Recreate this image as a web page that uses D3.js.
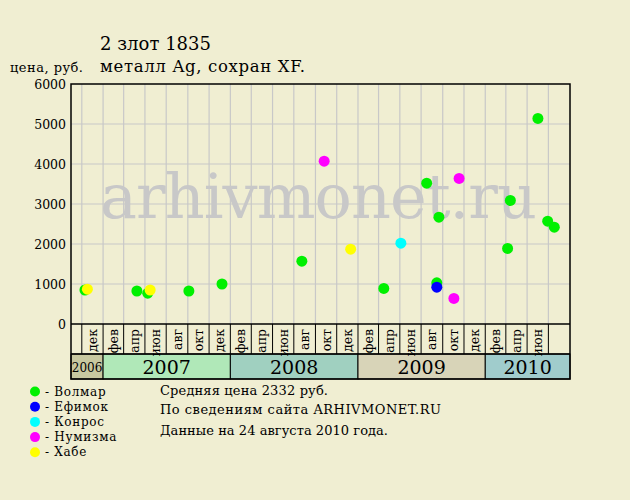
<!DOCTYPE html>
<html><head><meta charset="utf-8">
<script src="https://cdn.jsdelivr.net/npm/d3@7"></script>
<style>
html,body{margin:0;padding:0;background:#F0EED2;}
svg{display:block;font-family:"DejaVu Serif",serif;}
</style></head>
<body>
<svg id="c" width="630" height="500"></svg>
<script>
// ---- data ----
const volmarDates  = ["2006-11-10","2007-04-08","2007-05-09","2007-09-04","2007-12-08","2008-07-24","2009-03-16","2009-07-17","2009-08-15","2009-08-21","2010-03-06","2010-03-14","2010-06-01","2010-06-29","2010-07-18"];
const volmarValues = [850,825,770,825,1000,1570,890,3520,1030,2670,1890,3090,5140,2570,2420];
const efimokDates  = ["2009-08-15"];
const efimokValues = [920];
const konrosDates  = ["2009-05-04"];
const konrosValues = [2020];
const numizmaDates  = ["2008-09-26","2009-10-03","2009-10-18"];
const numizmaValues = [4070,640,3640];
const khabeDates  = ["2006-11-17","2007-05-16","2008-12-11"];
const khabeValues = [870,850,1870];

const seriesNames  = ["Волмар","Ефимок","Конрос","Нумизма","Хабе"];
const seriesColors = ["#00F000","#0000FF","#00FFFF","#FF00FF","#FFFF00"];
const yTicks = [0,1000,2000,3000,4000,5000,6000];
const monthNames = ["янв","фев","мар","апр","май","июн","июл","авг","сен","окт","ноя","дек"];
const years = [2006,2007,2008,2009,2010];
const yearColors = ["#C8C8A0","#B0E8B8","#A0D0C0","#D8D4B8","#A0CCCC"];
const title1 = "2 злот 1835";
const title2 = "металл Ag, сохран XF.";
const yLabel = "цена, руб.";
const notes = ["Средняя цена 2332 руб.","По  сведениям сайта ARHIVMONET.RU","Данные на 24 августа 2010 года."];
const watermark = "arhivmonet.ru";

// ---- layout ----
const L=71, R=570, T=84, B=324, MB=354, YB=379;
const svg = d3.select("#c");
const parse = d3.timeParse("%Y-%m-%d");
const x = d3.scaleTime().domain([new Date(2006,9,1), new Date(2010,8,1)]).range([L,R]);
const y = d3.scaleLinear().domain([0,6000]).range([B,T]);

svg.append("rect").attr("width",630).attr("height",500).attr("fill","#F0EED2");

// grid
const gridMonths = d3.timeMonth.range(new Date(2006,10,1), new Date(2010,8,1), 2);
svg.append("g").selectAll("line").data(gridMonths).join("line")
  .attr("x1",d=>x(d)).attr("x2",d=>x(d)).attr("y1",T).attr("y2",B)
  .attr("stroke","#C8C8C8").attr("stroke-width",1.2);
svg.append("g").selectAll("line").data(yTicks.slice(1,-1)).join("line")
  .attr("x1",L).attr("x2",R).attr("y1",d=>y(d)).attr("y2",d=>y(d))
  .attr("stroke","#C8C8C8").attr("stroke-width",1.2);

// watermark
svg.append("text").text(watermark).attr("x",100).attr("y",218)
  .attr("font-size",62).attr("fill","#C8C8C8").attr("textLength",437);

// y tick labels
svg.append("g").selectAll("text").data(yTicks).join("text")
  .attr("x",66).attr("y",d=>y(d)).attr("dy","0.36em").attr("text-anchor","end")
  .attr("font-size",12.5).attr("fill","#000").text(d=>d);

// year band
const yearStarts = years.map(yr=> yr===2006 ? new Date(2006,9,1) : new Date(yr,0,1));
const yearEnds = years.map(yr=> yr===2010 ? new Date(2010,8,1) : new Date(yr+1,0,1));
const yg = svg.append("g");
yg.selectAll("rect").data(years).join("rect")
  .attr("x",(d,i)=>x(yearStarts[i])).attr("y",MB)
  .attr("width",(d,i)=>x(yearEnds[i])-x(yearStarts[i])).attr("height",YB-MB)
  .attr("fill",(d,i)=>yearColors[i]).attr("stroke","#000").attr("stroke-width",1);
yg.selectAll("text").data(years).join("text")
  .attr("x",(d,i)=>(x(yearStarts[i])+x(yearEnds[i]))/2).attr("y",(d,i)=> i===0?372:374)
  .attr("text-anchor","middle").attr("font-size",(d,i)=>i===0?12:19).text(d=>d);

// month row
const mg = svg.append("g");
mg.selectAll("line").data(gridMonths).join("line")
  .attr("x1",d=>x(d)).attr("x2",d=>x(d)).attr("y1",B).attr("y2",MB)
  .attr("stroke","#000").attr("stroke-width",1);
const labelMonths = gridMonths.slice(0,-1);
mg.selectAll("text").data(labelMonths).join("text")
  .attr("transform",d=>{const cx=(x(d)+x(d3.timeMonth.offset(d,2)))/2; return `translate(${cx+4.5},329) rotate(-90)`;})
  .attr("text-anchor","end").attr("font-size",12.5)
  .text(d=>monthNames[d3.timeMonth.offset(d,1).getMonth()]);

// frame
svg.append("rect").attr("x",L).attr("y",T).attr("width",R-L).attr("height",YB-T)
  .attr("fill","none").attr("stroke","#000").attr("stroke-width",1.5);
svg.append("line").attr("x1",L).attr("x2",R).attr("y1",B).attr("y2",B).attr("stroke","#000").attr("stroke-width",1.5);
svg.append("line").attr("x1",L).attr("x2",R).attr("y1",MB).attr("y2",MB).attr("stroke","#000").attr("stroke-width",1.5);

// points
const series = [
  {dates:volmarDates, values:volmarValues},
  {dates:efimokDates, values:efimokValues},
  {dates:konrosDates, values:konrosValues},
  {dates:numizmaDates, values:numizmaValues},
  {dates:khabeDates, values:khabeValues}
];
series.forEach((s,i)=>{
  svg.append("g").selectAll("circle").data(s.dates.map((d,j)=>({d:parse(d),v:s.values[j]}))).join("circle")
    .attr("cx",p=>x(p.d)).attr("cy",p=>y(p.v)).attr("r",5.5).attr("fill",seriesColors[i]);
});

// titles
svg.append("text").text(title1).attr("x",100).attr("y",50).attr("font-size",18).attr("textLength",111);
svg.append("text").text(title2).attr("x",100).attr("y",72).attr("font-size",16.5).attr("textLength",205);
svg.append("text").text(yLabel).attr("x",10).attr("y",72).attr("font-size",13).attr("textLength",73);

// legend
const lg = svg.append("g");
seriesNames.forEach((n,i)=>{
  lg.append("circle").attr("cx",35).attr("cy",391.5+i*15.2).attr("r",5).attr("fill",seriesColors[i]);
  lg.append("text").attr("x",45).attr("y",395.5+i*15.2).attr("font-size",12).attr("letter-spacing",0.7).text("- "+n);
});
const noteLens = [168,281,228];
notes.forEach((t,i)=>{
  svg.append("text").attr("x",160).attr("y",[394.5,414,435][i]).attr("font-size",13).attr("textLength",noteLens[i]).text(t);
});
</script>
</body></html>
